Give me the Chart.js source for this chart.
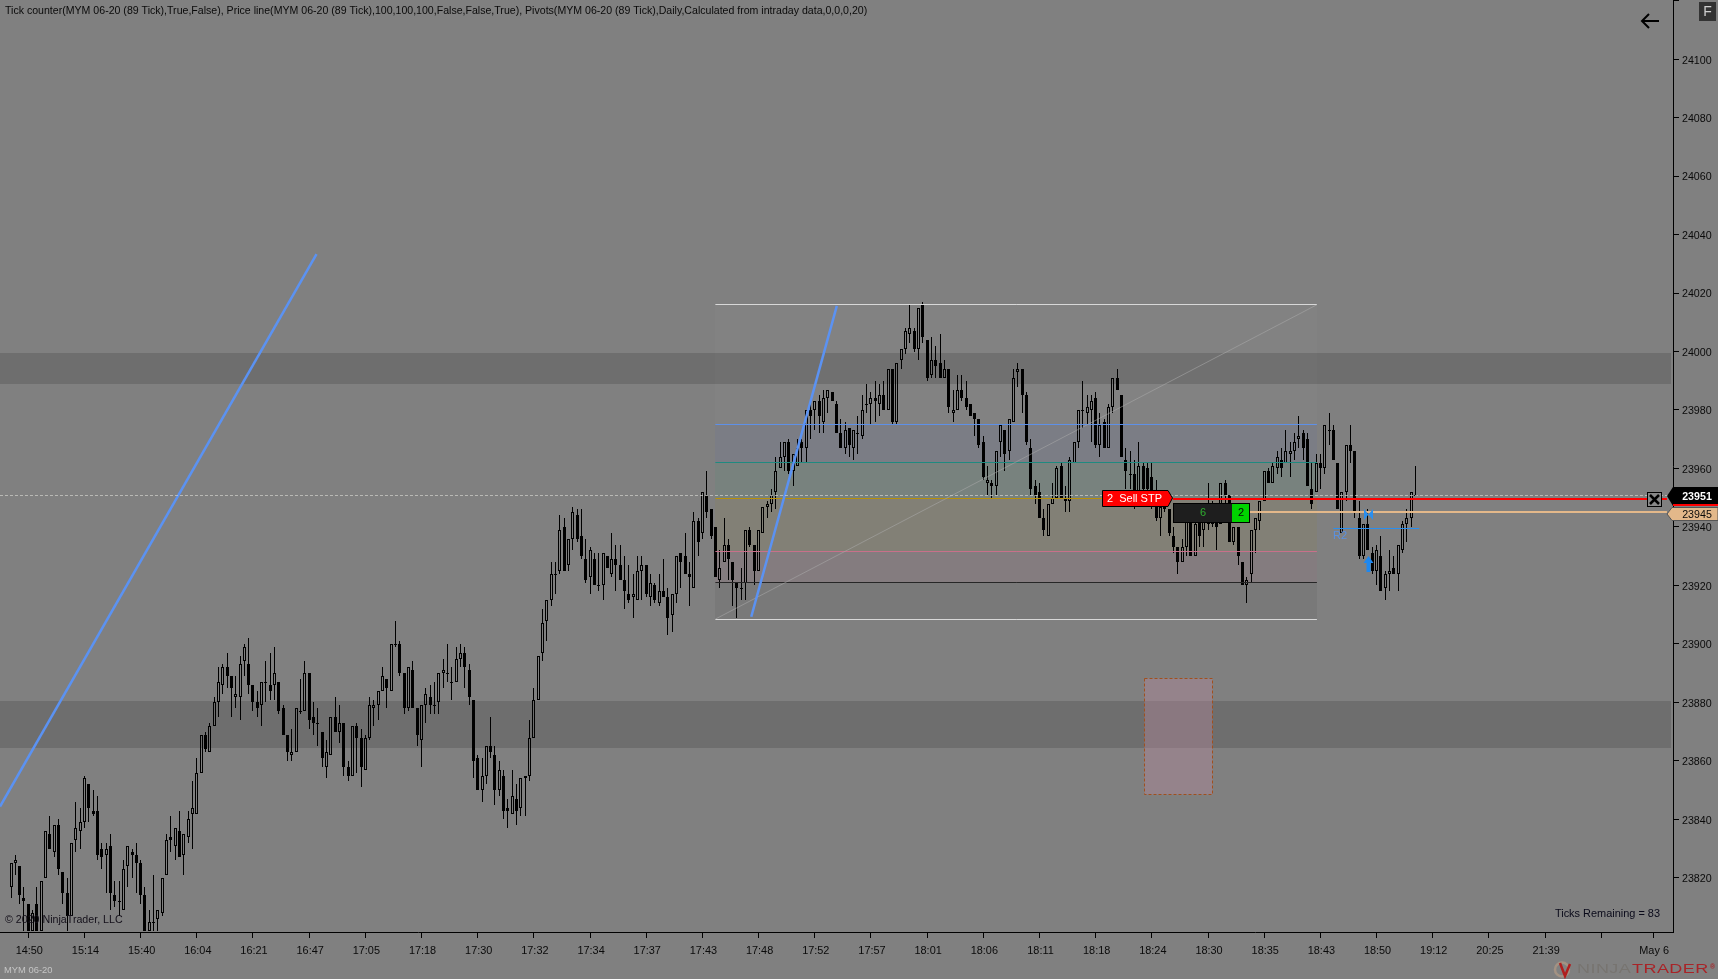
<!DOCTYPE html>
<html>
<head>
<meta charset="utf-8">
<title>MYM 06-20</title>
<script src="https://cdn.jsdelivr.net/npm/chart.js@4/dist/chart.umd.min.js"></script>
<style>
html,body{margin:0;padding:0;background:#808080;overflow:hidden}
canvas{display:block}
</style>
</head>
<body>
<canvas id="chart" width="1718" height="979"></canvas>
<script>
'use strict'
//////////////////
//Chart values
/////////////////
const opens = [
23817,23825,23824,23813,23811,23802,23811,23802,23820,23835,23829,23838,23822,23815,23807,23833,23836,23839,23852,23843,
23843,23830,23828,23831,23814,23812,23809,23824,23829,23828,23825,23814,23802,23805,23806,23808,23821,23834,23831,23836,
23828,23834,23842,23842,23856,23869,23863,23872,23880,23886,23892,23889,23882,23882,23894,23893,23886,23880,23879,23887,
23886,23886,23887,23878,23869,23862,23863,23877,23877,23890,23875,23873,23870,23858,23862,23875,23870,23873,23858,23855,
23872,23868,23857,23868,23878,23879,23884,23888,23884,23900,23900,23890,23878,23891,23878,23867,23879,23882,23879,23880,
23890,23890,23887,23887,23895,23897,23891,23881,23861,23850,23855,23865,23862,23850,23855,23844,23842,23847,23844,23854,
23855,23868,23881,23897,23908,23915,23924,23925,23940,23927,23936,23944,23937,23929,23923,23929,23920,23920,23930,23924,
23929,23927,23922,23917,23916,23915,23925,23927,23916,23920,23914,23918,23916,23910,23917,23931,23930,23924,23919,23942,
23938,23951,23946,23940,23922,23928,23934,23928,23921,23919,23921,23939,23934,23925,23938,23947,23948,23952,23960,23964,
23969,23959,23961,23969,23967,23980,23980,23983,23976,23984,23986,23982,23972,23967,23974,23967,23972,23971,23982,23982,
23984,23982,23985,23980,23994,23976,23997,24001,24006,24007,24001,24016,24004,23992,23997,23996,23991,23994,23979,23980,
23987,23984,23982,23979,23977,23969,23955,23955,23954,23969,23973,23966,23976,23993,23994,23985,23967,23954,23952,23943,
23937,23948,23950,23961,23950,23949,23962,23969,23980,23979,23980,23984,23968,23976,23967,23981,23991,23985,23963,23958,
23958,23950,23961,23960,23957,23951,23943,23949,23946,23937,23933,23928,23933,23942,23930,23945,23939,23946,23941,23945,
23941,23955,23951,23935,23940,23928,23920,23924,23939,23942,23949,23959,23955,23960,23963,23962,23965,23966,23970,23972,
23970,23953,23952,23962,23960,23973,23973,23962,23938,23952,23968,23966,23943,23930,23941,23931,23925,23930,23919,23924,
23926,23924,23932,23941,23943,23951];
const highs = [
23825,23828,23824,23817,23811,23809,23817,23819,23836,23841,23838,23840,23822,23820,23832,23846,23844,23855,23852,23850,
23848,23832,23832,23835,23819,23819,23826,23831,23830,23832,23826,23817,23809,23821,23809,23820,23835,23841,23837,23843,
23835,23843,23853,23861,23869,23870,23873,23882,23892,23893,23897,23889,23889,23896,23900,23902,23886,23884,23887,23894,
23897,23899,23887,23879,23869,23871,23878,23888,23894,23890,23880,23878,23870,23867,23875,23882,23879,23873,23860,23872,
23873,23871,23869,23882,23881,23884,23892,23888,23900,23908,23901,23890,23892,23894,23878,23879,23885,23886,23887,23890,
23895,23900,23892,23899,23900,23899,23893,23881,23862,23861,23865,23875,23865,23860,23857,23847,23857,23852,23854,23855,
23874,23885,23896,23912,23915,23928,23928,23944,23943,23936,23947,23946,23946,23936,23933,23931,23931,23931,23930,23938,
23934,23934,23930,23927,23924,23930,23930,23927,23924,23921,23924,23929,23919,23917,23930,23931,23938,23928,23945,23943,
23952,23959,23946,23940,23932,23943,23936,23928,23921,23926,23939,23940,23934,23939,23947,23949,23953,23964,23969,23969,
23970,23965,23970,23970,23980,23983,23983,23985,23987,23987,23986,23983,23977,23976,23974,23973,23978,23985,23989,23986,
23990,23989,23990,23994,23994,23996,24001,24008,24016,24008,24015,24017,24004,24005,24002,24006,23997,23994,23987,23992,
23992,23990,23982,23979,23977,23971,23961,23956,23966,23975,23973,23977,23994,23996,23994,23986,23970,23956,23955,23946,
23948,23955,23961,23962,23954,23964,23969,23980,23990,23985,23985,23986,23979,23977,23982,23991,23994,23985,23967,23966,
23963,23969,23962,23962,23962,23956,23949,23951,23946,23940,23933,23936,23942,23942,23942,23946,23946,23955,23949,23947,
23955,23956,23951,23940,23940,23928,23923,23939,23943,23949,23959,23960,23962,23966,23967,23973,23969,23972,23978,23973,
23972,23962,23965,23965,23975,23979,23975,23962,23952,23968,23975,23966,23949,23941,23946,23933,23934,23937,23925,23932,
23930,23934,23942,23946,23952,23961];
const lows = [
23813,23821,23811,23802,23802,23802,23802,23802,23820,23830,23827,23821,23811,23802,23807,23829,23830,23837,23839,23841,
23826,23823,23815,23809,23810,23807,23809,23817,23820,23815,23811,23802,23802,23802,23802,23807,23821,23829,23826,23827,
23821,23832,23830,23842,23856,23863,23863,23872,23875,23883,23885,23875,23878,23874,23889,23883,23877,23875,23872,23880,
23881,23881,23876,23869,23860,23860,23863,23876,23877,23871,23869,23865,23858,23854,23862,23870,23866,23855,23853,23855,
23856,23851,23857,23867,23872,23874,23884,23878,23884,23899,23889,23876,23877,23878,23865,23858,23873,23876,23876,23876,
23885,23887,23881,23887,23892,23885,23879,23854,23850,23846,23852,23861,23845,23848,23840,23837,23842,23838,23841,23841,
23853,23868,23881,23894,23901,23913,23917,23924,23925,23925,23932,23935,23929,23921,23917,23920,23918,23915,23926,23923,
23918,23922,23912,23914,23909,23915,23915,23916,23913,23914,23913,23916,23903,23904,23914,23919,23924,23913,23919,23930,
23936,23943,23936,23923,23919,23928,23922,23913,23909,23915,23915,23933,23920,23925,23938,23943,23945,23946,23960,23959,
23958,23954,23961,23962,23962,23970,23973,23972,23972,23979,23983,23972,23967,23965,23964,23963,23965,23970,23979,23975,
23976,23978,23980,23980,23975,23975,23994,23999,24003,24000,23997,24003,23990,23991,23991,23991,23991,23979,23976,23980,
23983,23980,23978,23971,23967,23956,23951,23950,23951,23964,23959,23963,23976,23988,23979,23968,23951,23948,23943,23937,
23937,23948,23950,23950,23945,23945,23962,23967,23974,23975,23969,23967,23964,23967,23967,23979,23987,23964,23953,23953,
23946,23947,23948,23949,23946,23942,23937,23945,23937,23931,23924,23928,23930,23930,23930,23933,23933,23939,23940,23932,
23941,23948,23935,23934,23927,23920,23914,23921,23931,23939,23949,23955,23955,23958,23957,23962,23957,23963,23967,23963,
23954,23946,23952,23953,23958,23968,23963,23946,23938,23949,23962,23943,23929,23929,23932,23924,23920,23918,23915,23918,
23924,23918,23931,23935,23940,23951];
const closes = [
23825,23826,23814,23812,23802,23808,23802,23819,23836,23830,23838,23823,23815,23807,23832,23837,23839,23854,23844,23842,
23828,23827,23830,23815,23812,23812,23823,23831,23828,23825,23814,23802,23805,23805,23809,23820,23833,23833,23837,23827,
23835,23840,23844,23856,23869,23864,23872,23880,23887,23892,23889,23885,23883,23893,23899,23886,23880,23878,23887,23887,
23884,23890,23877,23869,23863,23863,23878,23877,23890,23874,23873,23873,23861,23863,23875,23870,23873,23858,23855,23872,
23868,23858,23868,23879,23879,23884,23889,23885,23900,23900,23890,23878,23892,23878,23869,23879,23883,23879,23879,23890,
23891,23890,23887,23895,23897,23892,23882,23860,23850,23855,23865,23863,23850,23857,23843,23843,23848,23843,23854,23855,
23868,23881,23896,23907,23915,23924,23924,23939,23925,23936,23945,23936,23930,23922,23932,23920,23920,23931,23926,23929,
23927,23922,23918,23915,23917,23925,23927,23917,23921,23915,23918,23916,23909,23917,23930,23928,23924,23923,23942,23935,
23952,23945,23937,23923,23926,23934,23929,23922,23919,23919,23939,23934,23925,23939,23947,23948,23951,23959,23964,23969,
23959,23965,23967,23967,23980,23978,23983,23978,23984,23987,23983,23972,23967,23973,23968,23973,23972,23980,23982,23984,
23983,23985,23980,23994,23976,23996,24001,24007,24008,24001,24015,24005,23991,23997,23995,23991,23994,23981,23980,23987,
23984,23981,23978,23977,23968,23957,23956,23954,23966,23975,23965,23977,23991,23994,23985,23969,23953,23951,23943,23939,
23948,23950,23960,23950,23949,23963,23969,23980,23980,23981,23983,23968,23975,23967,23981,23991,23987,23964,23959,23958,
23951,23961,23953,23953,23950,23943,23947,23946,23938,23933,23928,23933,23942,23930,23941,23937,23945,23941,23947,23940,
23955,23951,23935,23940,23930,23920,23922,23939,23943,23949,23959,23955,23961,23964,23960,23966,23966,23969,23971,23967,
23954,23948,23962,23960,23975,23973,23963,23946,23952,23968,23966,23945,23930,23941,23932,23925,23932,23918,23924,23925,
23924,23934,23941,23943,23952,23951];

const xTickLabels = ['14:50','15:14','15:40','16:04','16:21','16:47','17:05','17:18','17:30','17:32','17:34','17:37','17:43','17:48','17:52','17:57','18:01','18:06','18:11','18:18','18:24','18:30','18:35','18:43','18:50','19:12','20:25','21:39','','May 6'];
const xTickBars = [4,17,30,43,56,69,82,95,108,121,134,147,160,173,186,199,212,225,238,251,264,277,290,303,316,329,342,355,368,380];
const yTickValues = [24120,24100,24080,24060,24040,24020,24000,23980,23960,23940,23920,23900,23880,23860,23840,23820];

const zoneTops = [23999.5,23880.5];
const zoneBottoms = [23989,23864.5];

const fibStart = 163;
const fibEnd = 302.2;
const fibLevels = [24016,23975,23962.2,23949.6,23931.7,23921,23908.5];
const fibColors = ['#d8d8d8','#5e90e8','#1f8a80','#b8900a','#c8708a','#262626','#d8d8d8'];
const fibFills = ['rgba(255,255,255,0.02)','rgba(80,100,180,0.10)','rgba(50,150,110,0.10)','rgba(150,130,20,0.09)','rgba(180,90,120,0.09)','rgba(0,0,0,0.05)'];

const trendBars = [[-2.55,70.7],[171.3,191.1]];
const trendPrices = [[23844.4,24033.3],[23909.3,24015.6]];

const lastPrice = 23951;
const sellStopPrice = 23949.6;
const positionPrice = 23945;
const pivotR2 = 23939.5;
const pivotBars = [306,325.9];
const orderBarFrom = 268.9;
const positionBarFrom = 286.7;
const orderBarTo = 383.2;

const boxBars = [262.2,278];
const boxPrices = [23888.5,23848.7];

const titleText = 'Tick counter(MYM 06-20 (89 Tick),True,False), Price line(MYM 06-20 (89 Tick),100,100,100,False,False,True), Pivots(MYM 06-20 (89 Tick),Daily,Calculated from intraday data,0,0,0,20)';

/////////////////////////
//Helpers
////////////////////////
const FONT = '"Liberation Sans", Arial, sans-serif';
const barIndexes = opens.map((v, i) => i);

function lineSet(xs, ys, color, width, extra){
    return Object.assign({
        type: 'line',
        data: xs.map((x, i) => ({x: x, y: ys[i]})),
        borderColor: color,
        borderWidth: width,
        pointRadius: 0,
        tension: 0,
        order: 1
    }, extra || {});
}

function wickSet(values){
    return {
        type: 'bar',
        data: values,
        barThickness: 1,
        grouped: false,
        backgroundColor: '#000',
        borderWidth: 0,
        borderSkipped: false,
        inflateAmount: 0,
        order: 3
    };
}

const upperWicks = barIndexes.map(i => ({x: i, y: [Math.max(opens[i], closes[i]), highs[i]]}));
const lowerWicks = barIndexes.map(i => ({x: i, y: [lows[i], Math.min(opens[i], closes[i])]}));
const bodies = barIndexes.map(i => ({x: i, y: [opens[i], closes[i]]}));

const datasets = [
    lineSet([-2.55,384.6], [lastPrice,lastPrice], 'rgba(205,205,200,0.75)', 1, {borderDash: [3,2], snap: 'half', order: 0.5}),
    lineSet(trendBars[0], trendPrices[0], '#5b92f2', 2.5),
    lineSet(trendBars[1], trendPrices[1], '#5b92f2', 2.5),
    lineSet([fibStart,fibEnd], [fibLevels[6],fibLevels[0]], 'rgba(170,170,170,0.55)', 1),
    lineSet([orderBarFrom,orderBarTo], [sellStopPrice,sellStopPrice], '#ff0000', 2, {snap: 'whole', order: 0}),
    lineSet([positionBarFrom,orderBarTo], [positionPrice,positionPrice], '#e3b88a', 2, {snap: 'whole', order: 0}),
    lineSet(pivotBars, [pivotR2,pivotR2], '#2a8ff0', 1, {snap: 'half'}),
    {
        type: 'bar',
        data: bodies,
        barThickness: 3,
        grouped: false,
        backgroundColor: barIndexes.map(i => closes[i] > opens[i] ? 'rgba(0,0,0,0)' : '#000'),
        borderColor: '#000',
        borderWidth: 1,
        borderSkipped: false,
        inflateAmount: 0,
        isBody: true,
        order: 2
    },
    wickSet(upperWicks),
    wickSet(lowerWicks)
];

fibLevels.forEach((level, i) => {
    datasets.push(lineSet([fibStart,fibEnd], [level,level], fibColors[i], 1, {snap: 'row'}));
});

//Keeps the candles and thin lines on whole pixels like the trading platform does
const snapPlugin = {
    id: 'snap',
    afterDatasetsUpdate(chart){
        chart.data.datasets.forEach((ds, n) => {
            const meta = chart.getDatasetMeta(n);
            if (ds.type === 'bar'){
                for (let el of meta.data){
                    el.x = Math.floor(el.x) + 0.5;
                    el.y = Math.round(el.y);
                    el.base = Math.round(el.base);
                    if (ds.isBody && el.y === el.base){
                        el.base = el.y + 1;
                    }
                }
            } else if (ds.snap){
                for (let el of meta.data){
                    if (ds.snap === 'half') el.y = Math.round(el.y) + 0.5;
                    else if (ds.snap === 'row') el.y = Math.floor(el.y) + 0.5;
                    else el.y = Math.round(el.y);
                }
            }
        });
    }
};

const backdropPlugin = {
    id: 'backdrop',
    beforeDatasetsDraw(chart){
        const ctx = chart.ctx;
        const xs = chart.scales.x;
        const ys = chart.scales.y;
        const area = chart.chartArea;
        ctx.save();
        //dark price zones, they stop just short of the price axis
        ctx.fillStyle = '#6e6e6e';
        zoneTops.forEach((top, i) => {
            const y1 = Math.round(ys.getPixelForValue(top));
            const y2 = Math.round(ys.getPixelForValue(zoneBottoms[i]));
            ctx.fillRect(area.left, y1, area.right - area.left - 2, y2 - y1);
        });
        //fib shading
        const fx1 = Math.round(xs.getPixelForValue(fibStart));
        const fx2 = Math.round(xs.getPixelForValue(fibEnd));
        fibFills.forEach((fill, i) => {
            const y1 = Math.round(ys.getPixelForValue(fibLevels[i]));
            const y2 = Math.round(ys.getPixelForValue(fibLevels[i + 1]));
            ctx.fillStyle = fill;
            ctx.fillRect(fx1, y1, fx2 - fx1, y2 - y1);
        });
        //order box
        const bx1 = Math.round(xs.getPixelForValue(boxBars[0])) + 0.5;
        const bx2 = Math.round(xs.getPixelForValue(boxBars[1])) + 0.5;
        const by1 = Math.round(ys.getPixelForValue(boxPrices[0])) + 0.5;
        const by2 = Math.round(ys.getPixelForValue(boxPrices[1])) + 0.5;
        ctx.fillStyle = 'rgba(180,135,155,0.4)';
        ctx.fillRect(bx1, by1, bx2 - bx1, by2 - by1);
        ctx.strokeStyle = '#a0501e';
        ctx.lineWidth = 1;
        ctx.setLineDash([3,2]);
        ctx.strokeRect(bx1, by1, bx2 - bx1, by2 - by1);
        ctx.restore();
    }
};

function label(ctx, text, x, y, font, color, align){
    ctx.font = font;
    ctx.fillStyle = color;
    ctx.textAlign = align || 'left';
    ctx.textBaseline = 'middle';
    ctx.fillText(text, x, y);
}

function poly(ctx, points, fill, stroke){
    ctx.beginPath();
    points.forEach((p, i) => i === 0 ? ctx.moveTo(p[0], p[1]) : ctx.lineTo(p[0], p[1]));
    ctx.closePath();
    ctx.fillStyle = fill;
    ctx.fill();
    if (stroke){
        ctx.strokeStyle = stroke;
        ctx.lineWidth = 1;
        ctx.stroke();
    }
}

//stretched logo lettering
function wideLabel(ctx, text, x, y, color){
    ctx.save();
    ctx.translate(x, y);
    ctx.scale(1.5, 1);
    ctx.letterSpacing = '0.3px';
    label(ctx, text, 0, 0, '12px ' + FONT, color);
    ctx.restore();
}

const overlayPlugin = {
    id: 'overlay',
    afterDraw(chart){
        const ctx = chart.ctx;
        const ys = chart.scales.y;
        const small = '10.67px ' + FONT;
        ctx.save();

        label(ctx, titleText, 5, 11.5, '10.58px ' + FONT, '#0a0a0a');
        label(ctx, '\u00a9 2020 NinjaTrader, LLC', 5, 920.5, small, '#14101a');
        label(ctx, 'Ticks Remaining = 83', 1660, 914, '10.95px ' + FONT, '#0a0a1a', 'right');
        label(ctx, 'MYM 06-20', 4, 970, '9.4px ' + FONT, '#c4c4c4');

        //sell stop flag
        poly(ctx, [[1102.5,490.5],[1168,490.5],[1172.5,498],[1168,506.5],[1102.5,506.5]], '#ff0000', '#000');
        label(ctx, '2  Sell STP', 1134.5, 499, '11px ' + FONT, '#fff', 'center');

        //position box
        const tanY = Math.round(ys.getPixelForValue(positionPrice));
        ctx.fillStyle = '#1e1e1e';
        ctx.fillRect(1173, 503, 59, 20);
        ctx.fillStyle = '#00d400';
        ctx.fillRect(1232, 503, 18, 20);
        ctx.strokeStyle = '#000';
        ctx.lineWidth = 1;
        ctx.strokeRect(1173.5, 503.5, 76, 19);
        label(ctx, '6', 1203, tanY + 1, '11px ' + FONT, '#2fae2f', 'center');
        label(ctx, '2', 1241, tanY + 1, '11px ' + FONT, '#0a0a0a', 'center');

        //pivot text and markers
        label(ctx, 'R2', 1333, 535.5, '11px ' + FONT, '#5a90e0');
        const mx = 1368.5;
        poly(ctx, [[mx-4.5,509],[mx-4.5,520],[mx,514.5]], '#2a8ff0');
        poly(ctx, [[mx+4.5,509],[mx+4.5,520],[mx,514.5]], '#2a8ff0');
        poly(ctx, [[mx,556],[mx+5,563],[mx+2,563],[mx+2,572],[mx-2,572],[mx-2,563],[mx-5,563]], '#1e88f0');

        //close order button
        ctx.fillStyle = '#888';
        ctx.fillRect(1647, 492, 15, 15);
        ctx.strokeStyle = '#000';
        ctx.lineWidth = 1;
        ctx.strokeRect(1647.5, 492.5, 14, 14);
        ctx.lineWidth = 2.5;
        ctx.beginPath();
        ctx.moveTo(1650, 495);
        ctx.lineTo(1659, 504);
        ctx.moveTo(1659, 495);
        ctx.lineTo(1650, 504);
        ctx.stroke();

        //price flags on the axis
        poly(ctx, [[1667,496],[1673,487],[1718,487],[1718,506],[1673,506]], '#000');
        ctx.fillStyle = '#ff0000';
        ctx.fillRect(1673, 504, 45, 2);
        label(ctx, String(lastPrice), 1697, 497, 'bold 10.67px ' + FONT, '#fff', 'center');
        poly(ctx, [[1667,514],[1672,507.5],[1718,507.5],[1718,520.5],[1672,520.5]], '#e3b88a', '#555');
        label(ctx, String(positionPrice), 1697, 515, '10.67px ' + FONT, '#0a0a0a', 'center');

        //full screen button
        ctx.fillStyle = '#333';
        ctx.fillRect(1699, 2, 17, 19);
        label(ctx, 'F', 1707.5, 12, '14px ' + FONT, '#cfcfcf', 'center');

        //back arrow
        ctx.strokeStyle = '#000';
        ctx.lineWidth = 2;
        ctx.beginPath();
        ctx.moveTo(1659, 21);
        ctx.lineTo(1642, 21);
        ctx.moveTo(1649, 14);
        ctx.lineTo(1642, 21);
        ctx.lineTo(1649, 28);
        ctx.stroke();

        //logo
        ctx.strokeStyle = '#a39283';
        ctx.lineWidth = 2.5;
        ctx.beginPath();
        ctx.arc(1562, 969.5, 7, 0, Math.PI * 2);
        ctx.stroke();
        ctx.strokeStyle = '#b01e1e';
        ctx.beginPath();
        ctx.moveTo(1560, 963);
        ctx.lineTo(1565, 976);
        ctx.lineTo(1570, 964);
        ctx.stroke();
        wideLabel(ctx, 'NINJA', 1577, 969.5, '#777470');
        wideLabel(ctx, 'TRADER', 1632, 969.5, '#a82428');
        label(ctx, '\u00ae', 1710, 967, 'bold 7px ' + FONT, '#a82428');

        ctx.restore();
    }
};

/////////////////////////
//Chart
////////////////////////
function renderChart(){
    const config = {
        type: 'bar',
        data: {datasets: datasets},
        options: {
            responsive: false,
            animation: false,
            devicePixelRatio: 1,
            events: [],
            layout: {padding: 0, autoPadding: false},
            plugins: {legend: {display: false}, tooltip: {enabled: false}, title: {display: false}},
            scales: {
                x: {
                    type: 'linear',
                    min: -2.546,
                    max: 384.6,
                    offset: false,
                    afterBuildTicks(scale){ scale.ticks = xTickBars.map(v => ({value: v})); },
                    afterFit(scale){
                        scale.height = 47;
                        scale.paddingLeft = scale.paddingRight = 0;
                    },
                    border: {display: true, color: '#000', width: 1},
                    grid: {drawOnChartArea: false, drawTicks: true, tickLength: 6, tickColor: '#000', offset: false},
                    ticks: {
                        autoSkip: false,
                        maxRotation: 0,
                        padding: 6,
                        labelOffset: 1,
                        color: '#0a0a0a',
                        font: {family: FONT, size: 10.9},
                        callback(value){ return xTickLabels[xTickBars.indexOf(value)]; }
                    }
                },
                y: {
                    type: 'linear',
                    position: 'right',
                    min: 23801.5,
                    max: 24120.2,
                    afterBuildTicks(scale){ scale.ticks = yTickValues.map(v => ({value: v})); },
                    afterFit(scale){
                        scale.width = 45;
                        scale.paddingTop = scale.paddingBottom = 0;
                    },
                    border: {display: true, color: '#000', width: 1},
                    grid: {drawOnChartArea: false, drawTicks: true, tickLength: 6, tickColor: '#000'},
                    ticks: {
                        padding: 3,
                        labelOffset: 1.5,
                        color: '#0a0a0a',
                        font: {family: FONT, size: 10.67},
                        callback(value){ return value === 24120 ? '' : String(value); }
                    }
                }
            }
        },
        plugins: [snapPlugin, backdropPlugin, overlayPlugin]
    };
    return new Chart(document.getElementById('chart'), config);
}

renderChart();
</script>
</body>
</html>
